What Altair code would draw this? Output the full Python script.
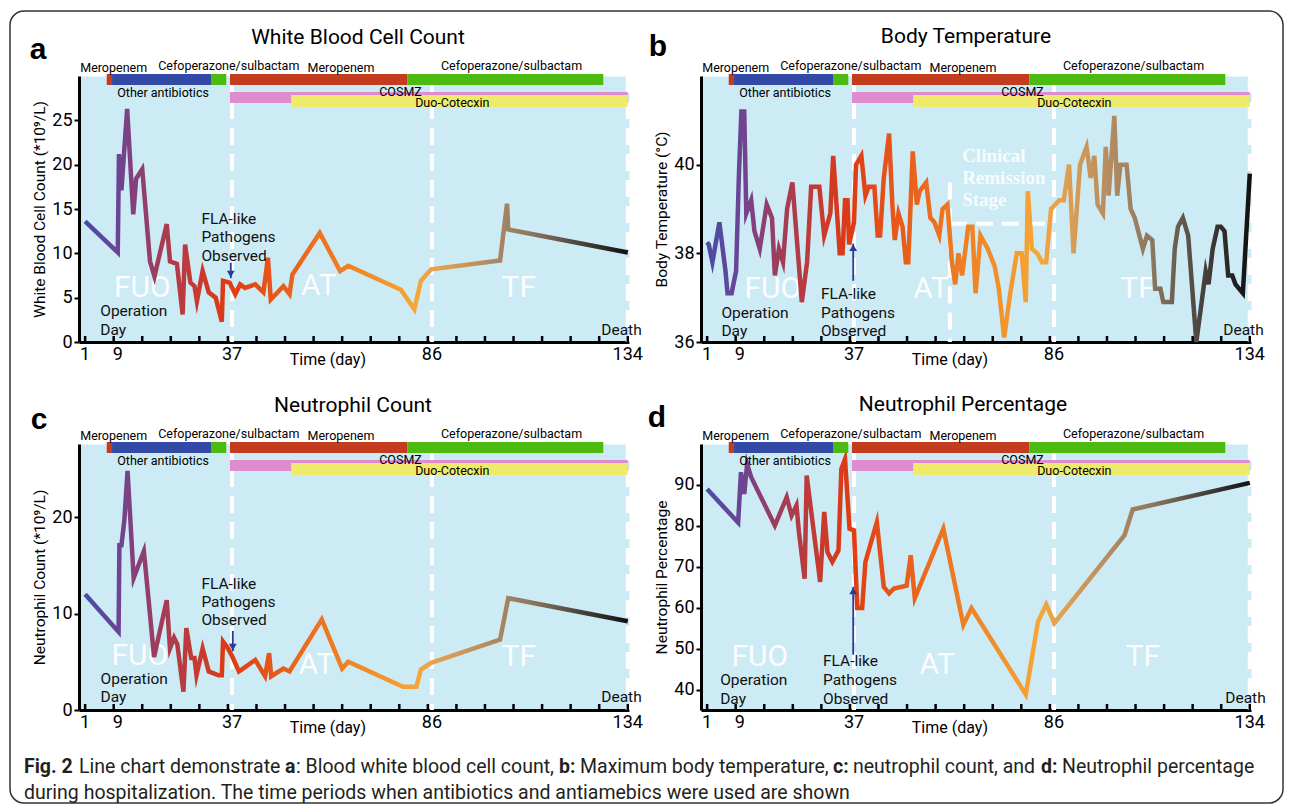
import altair as alt
import pandas as pd

# ------------------------------------------------------------------ data
wbc_day = [1, 9.0, 9.3, 9.9, 11.3, 12.8, 13.5, 15.0, 16.9, 18.0, 21.0, 21.8, 23.5, 24.9, 25.5,
           26.8, 27.8, 28.4, 29.8, 31.3, 33.0, 34.5, 34.8, 36.4, 37.8, 39.0, 40.2, 42.7, 44.7,
           45.8, 46.5, 49.6, 51.1, 51.8, 58.5, 63.5, 65.5, 78.4, 81.7, 83.3, 85.8, 102.7,
           104.4, 104.7, 134]
wbc_val = [13.6, 10.1, 21.2, 17.1, 26.3, 14.4, 18.4, 19.5, 9.1, 7.4, 13.3, 9.1, 8.8, 3.1, 11.0,
           6.7, 6.3, 4.6, 8.0, 5.6, 5.0, 2.3, 6.9, 6.7, 5.4, 6.5, 6.1, 6.5, 5.6,
           9.5, 4.8, 6.3, 5.4, 7.6, 12.3, 8.0, 8.6, 5.9, 3.7, 6.9, 8.2, 9.2,
           15.6, 12.7, 10.1]

temp_day = [1, 1.4, 2.3, 4.0, 5.5, 6.0, 7.0, 8.1, 8.8, 9.4,
            10.1, 10.6, 11.8, 12.6, 13.9, 15.6, 16.9, 17.6, 18.6, 19.6,
            20.6, 21.9, 24.2, 25.5, 26.5, 28.5, 29.7, 31.2, 31.9, 33.5,
            34.2, 34.8, 35.4, 35.8, 37.0, 37.5, 38.8, 39.8, 40.6, 42.0,
            42.8, 43.4, 44.3, 45.6, 46.4, 47.0, 47.9, 48.9, 49.7, 50.3,
            51.4, 52.4, 53.1, 54.7, 55.7, 56.7, 57.9, 58.7, 59.9, 61.0,
            61.8, 62.6, 63.5, 65.0, 66.0, 66.8, 68.0, 69.8, 71.5, 72.5,
            73.8, 75.3, 76.9, 78.1, 79.1, 79.6, 80.6, 81.9, 83.1, 84.1,
            85.3, 87.3, 88.4, 89.7, 90.8, 92.4, 94.0, 95.0, 95.9, 96.7,
            98.0, 98.7, 99.4, 100.8, 101.5, 102.3, 103.8, 104.8, 105.8, 107.8,
            108.8, 110.1, 110.8, 112.1, 112.8, 114.9, 115.6, 116.4, 117.6, 118.9,
            120.9, 122.2, 123.2, 123.9, 124.9, 126.1, 126.9, 127.8, 128.7, 129.7,
            130.5, 132.3, 134.0]
temp_val = [38.25, 38.2, 37.8, 38.7, 37.6, 37.1, 37.1, 37.6, 39.8, 41.2,
            41.2, 38.9, 39.2, 38.5, 38.1, 39.1, 38.8, 37.5, 38.1, 37.8,
            39.0, 39.6, 36.9, 37.8, 39.5, 39.5, 38.4, 38.9, 40.2, 38.0,
            38.0, 39.2, 39.2, 38.2, 38.7, 40.0, 40.2, 39.3, 39.5, 39.5,
            38.4, 38.4, 39.7, 40.7, 39.1, 38.3, 38.9, 38.6, 37.8, 37.8,
            40.3, 39.1, 39.4, 39.6, 38.8, 38.7, 38.4, 39.0, 39.1, 37.8,
            37.3, 38.0, 37.5, 38.6, 38.6, 37.1, 38.4, 38.1, 37.7, 37.2,
            36.1, 37.1, 38.0, 38.0, 36.9, 39.4, 38.1, 38.0, 37.8, 37.8,
            39.0, 39.2, 39.2, 40.0, 38.0, 40.0, 40.4, 39.7, 40.2, 39.1,
            38.9, 40.4, 39.3, 41.1, 39.3, 40.0, 40.0, 39.0, 38.8, 38.1,
            38.4, 38.3, 37.2, 37.2, 36.9, 36.9, 38.1, 38.6, 38.8, 38.4,
            36.0, 36.9, 37.6, 37.3, 38.1, 38.6, 38.6, 38.5, 37.5, 37.5,
            37.3, 37.1, 39.8]

neu_day = [1, 9.2, 9.4, 9.9, 10.6, 11.4, 12.9, 15.4, 17.9, 21.0, 21.8, 22.8, 23.6, 25.1, 25.8,
           27.0, 27.8, 28.3, 29.8, 31.3, 33.7, 34.5, 34.8, 36.0, 36.9, 38.7, 39.7, 42.7, 45.1,
           46.1, 46.6, 49.6, 51.1, 59.0, 64.0, 65.5, 78.9, 82.2, 83.3, 85.8, 102.7, 104.7, 134]
neu_val = [12.0, 8.1, 17.1, 17.1, 19.6, 24.8, 13.7, 16.5, 5.5, 11.4, 6.4, 7.5, 6.8, 1.9, 8.5,
           5.4, 5.4, 3.6, 6.4, 4.0, 3.6, 3.6, 7.1, 6.4, 5.7, 4.0, 4.3, 5.2, 3.5,
           5.9, 3.5, 4.3, 4.0, 9.4, 4.3, 5.0, 2.4, 2.4, 4.2, 4.9, 7.3, 11.6, 9.2]

pct_day = [1, 8.6, 9.3, 10.1, 10.8, 11.8, 17.6, 20.5, 21.7, 22.9, 23.5, 24.9, 25.4, 28.7, 29.7,
           30.5, 31.7, 33.2, 33.9, 34.8, 35.9, 37.0, 37.8, 39.0, 39.8, 42.6, 44.3, 45.6, 46.8,
           49.9, 50.9, 51.9, 58.9, 63.8, 65.8, 79.1, 82.1, 84.1, 86.1, 103.3, 105.3, 134]
pct_val = [89.0, 80.8, 93.1, 87.8, 95.1, 91.9, 80.1, 87.0, 82.5, 85.0, 78.5, 67.1, 92.3, 66.3, 83.4,
           73.6, 71.2, 74.0, 93.9, 96.3, 79.3, 78.9, 59.9, 59.9, 71.2, 80.9, 65.1, 63.5, 64.7,
           65.4, 72.8, 62.3, 79.3, 55.8, 59.9, 38.8, 56.6, 60.8, 56.2, 77.7, 84.0, 90.5]

xtick_days = [1, 8, 15, 22, 29, 36, 43, 50, 57, 64, 71, 78, 85, 92, 99, 106, 113, 120, 127, 134]
xlabel_days = [1, 9, 37, 86, 134]
phase_days = [37, 86, 134]

drug_name = ["Meropenem", "Other antibiotics", "Cefoperazone/sulbactam", "Meropenem",
             "Cefoperazone/sulbactam", "COSMZ", "Duo-Cotecxin"]
drug_start = [6.3, 7.6, 32.0, 36.5, 80.0, 36.5, 51.5]
drug_end = [7.6, 32.0, 35.6, 80.0, 128.0, 134.0, 134.0]

# ------------------------------------------------------------------ style
FONT = "Roboto"
W, H = 550, 266
XDOM = [-0.5, 134.3]
BG = "#cdebf5"
ARROW = "#2b3a98"
DRUG_DOMAIN = ["Meropenem", "Other antibiotics", "Cefoperazone/sulbactam", "COSMZ", "Duo-Cotecxin"]
DRUG_RANGE = ["#c33c1e", "#3249a5", "#4dba12", "#df8bd0", "#eeeb6c"]
GRAD_STOPS = [(0.0, "#4a4ba5"), (0.06, "#6a4596"), (0.09, "#85407a"), (0.143, "#a53c55"),
              (0.203, "#c53a32"), (0.263, "#e03a12"), (0.331, "#e5521a"), (0.421, "#ec7020"),
              (0.519, "#f18c28"), (0.609, "#f6a636"), (0.654, "#e2a152"), (0.744, "#b38b62"),
              (0.82, "#8c775f"), (0.902, "#4f4944"), (1.0, "#111111")]
GRAD = alt.LinearGradient(gradient="linear", x1=0, x2=1, y1=0, y2=0,
                          stops=[alt.GradientStop(offset=o, color=c) for o, c in GRAD_STOPS])

xs = alt.Scale(domain=XDOM, nice=False, zero=False)
XAX = alt.Axis(labels=False, ticks=False, title=None, grid=False, domainColor="black", domainWidth=3)
ONE = pd.DataFrame({"k": [0]})


def X(field="day"):
    return alt.X(f"{field}:Q", scale=xs, axis=XAX)


def ptext(text, px, py, size=16, weight="normal", font=FONT, align="center", color="black"):
    return alt.Chart(ONE).mark_text(text=text, font=font, fontSize=size, fontWeight=weight,
                                    align=align, baseline="middle", color=color).encode(
        x=alt.value(px), y=alt.value(py))


def panel(days, vals, ydom, yvals, ytitle, title, title_pos, letter, letter_pos, ann, extra=()):
    ys = alt.Scale(domain=ydom, nice=False, zero=False)
    yax = alt.Axis(values=yvals, grid=False, domainColor="black", domainWidth=3, tickColor="black",
                   tickWidth=2, tickSize=5, labelFont=FONT, labelFontSize=18, labelColor="black",
                   labelPadding=2, title=ytitle, titleFont=FONT, titleFontSize=15.5,
                   titleFontWeight="normal", titleColor="black", titleX=-40, titleY=H / 2,
                   titleAngle=-90, titleAlign="center", titleBaseline="middle")

    def Y(field="val"):
        return alt.Y(f"{field}:Q", scale=ys, axis=yax)

    layers = list(extra)
    df = pd.DataFrame({"day": days, "val": vals, "i": list(range(len(days)))})
    line = alt.Chart(df).mark_line(stroke=GRAD, strokeWidth=4.5, strokeJoin="miter",
                                   strokeMiterLimit=6, strokeCap="butt").encode(
        x=X(), y=Y(), order="i:Q")
    # phase separators (white dashed)
    layers.append(alt.Chart(pd.DataFrame({"day": phase_days})).mark_rule(
        color="white", strokeWidth=4, strokeDash=[17, 9]).encode(
        x=X(), y=alt.value(0), y2=alt.value(H)))
    if "remission" in ann:
        d0, d1, top, lvl = ann["remission"]
        layers.append(alt.Chart(pd.DataFrame({"day": [d0], "val": [top], "val2": [ydom[0]]})).mark_rule(
            color="white", strokeWidth=4, strokeDash=[17, 9]).encode(x=X(), y=Y(), y2="val2:Q"))
        layers.append(alt.Chart(pd.DataFrame({"day": [d0], "day2": [d1], "val": [lvl]})).mark_rule(
            color="white", strokeWidth=4, strokeDash=[17, 9]).encode(x=X(), x2="day2:Q", y=Y()))
        rem = pd.DataFrame({"label": ["Clinical", "Remission", "Stage"],
                            "day": [ann["remission_text"][0]] * 3, "val": ann["remission_text"][1]})
        layers.append(alt.Chart(rem).mark_text(font="Liberation Serif", fontWeight="bold", fontSize=19,
                                               color="white", opacity=0.85, align="left",
                                               baseline="middle").encode(x=X(), y=Y(), text="label:N"))
    # stage labels
    st = pd.DataFrame(ann["stages"], columns=["label", "day", "val"])
    layers.append(alt.Chart(st).mark_text(font=FONT, fontSize=30, color="white", opacity=0.92,
                                          baseline="middle").encode(x=X(), y=Y(), text="label:N"))
    layers.append(line)
    # x ticks (pointing inward) and labels
    layers.append(alt.Chart(pd.DataFrame({"day": xtick_days})).mark_rule(
        color="black", strokeWidth=2.5).encode(x=X(), y=alt.value(H), y2=alt.value(H - 6)))
    layers.append(alt.Chart(pd.DataFrame({"day": xlabel_days})).mark_text(
        font=FONT, fontSize=18, baseline="middle", color="black").encode(
        x=X(), y=alt.value(H + 13), text=alt.Text("day:Q", format="d")))
    layers.append(alt.Chart(pd.DataFrame({"day": [60.5]})).mark_text(
        text="Time (day)", font=FONT, fontSize=16, baseline="middle", color="black").encode(
        x=X(), y=alt.value(H + 18)))
    # drug bars
    drugs = pd.DataFrame({"name": drug_name, "start": drug_start, "end": drug_end})
    color = alt.Color("name:N", scale=alt.Scale(domain=DRUG_DOMAIN, range=DRUG_RANGE), legend=None)
    for names, y0, y1 in [(DRUG_DOMAIN[:3], -2, 9), (["COSMZ"], 16, 27), (["Duo-Cotecxin"], 19, 31)]:
        layers.append(alt.Chart(drugs).transform_filter(
            alt.FieldOneOfPredicate(field="name", oneOf=names)).mark_rect().encode(
            x=X("start"), x2="end:Q", y=alt.value(y0), y2=alt.value(y1), color=color))
    for lab, d, py in [("Meropenem", 8.0, -8), ("Cefoperazone/sulbactam", 36.2, -10),
                       ("Meropenem", 63.7, -8), ("Cefoperazone/sulbactam", 105.5, -10),
                       ("Other antibiotics", 20.1, 17), ("COSMZ", 78.3, 16), ("Duo-Cotecxin", 91.0, 27)]:
        layers.append(alt.Chart(pd.DataFrame({"day": [d]})).mark_text(
            text=lab, font=FONT, fontSize=12.5, baseline="middle", color="black").encode(
            x=X(), y=alt.value(py)))
    # black annotations
    od, o1, o2 = ann["op"]
    fd, fv = ann["fla"]
    dd, dv = ann["death"]
    notes = pd.DataFrame({"label": ["Operation", "Day", "FLA-like", "Pathogens", "Observed", "Death"],
                          "day": [od, od, fd, fd, fd, dd],
                          "val": [o1, o2, fv[0], fv[1], fv[2], dv]})
    layers.append(alt.Chart(notes).mark_text(font=FONT, fontSize=15.5, align="left", baseline="middle",
                                             color="#111111").encode(x=X(), y=Y(), text="label:N"))
    # arrow
    ad, tail, head = ann["arrow"]
    layers.append(alt.Chart(pd.DataFrame({"day": [ad], "val": [tail], "val2": [head]})).mark_rule(
        color=ARROW, strokeWidth=1.8).encode(x=X(), y=Y(), y2="val2:Q"))
    down = head < tail
    layers.append(alt.Chart(pd.DataFrame({"day": [ad], "val": [head]})).mark_point(
        shape="triangle-down" if down else "triangle-up", filled=True, size=60, color=ARROW,
        opacity=1, yOffset=-4 if down else 4).encode(x=X(), y=Y()))
    # title and panel letter
    layers.append(ptext(title, title_pos[0], title_pos[1], size=21))
    layers.append(ptext(letter, letter_pos[0], letter_pos[1], size=30, weight="bold",
                        font="Liberation Sans"))
    return alt.layer(*layers).properties(width=W, height=H)


# frame and caption, drawn relative to panel a
frame = alt.Chart(ONE).mark_rect(fill="white", fillOpacity=0, stroke="#333333", strokeWidth=1.5,
                                 cornerRadius=14).encode(
    x=alt.value(-69), y=alt.value(-65), x2=alt.value(1204), y2=alt.value(727))
cap = [("Fig. 2", -55, "bold"), ("Line chart demonstrate", 0, "normal"), ("a", 206, "bold"),
       (": Blood white blood cell count,", 217, "normal"), ("b:", 480, "bold"),
       ("Maximum body temperature,", 501, "normal"), ("c:", 754, "bold"),
       ("neutrophil count, and", 774, "normal"), ("d:", 962, "bold"),
       ("Neutrophil percentage", 983, "normal")]
caption_layers = [ptext(t, px, 691, size=19.5, weight=w, align="left", color="#231f20") for t, px, w in cap]
caption_layers.append(ptext("during hospitalization. The time periods when antibiotics and antiamebics "
                            "were used are shown", -55, 717, size=19.5, align="left", color="#231f20"))

pa = panel(wbc_day, wbc_val, [0, 30], [0, 5, 10, 15, 20, 25], "White Blood Cell Count (*10⁹/L)",
           "White Blood Cell Count", (279, -38), "a", (-41, -26),
           dict(stages=[("FUO", 15, 6.1), ("AT", 58.3, 6.3), ("TF", 107.3, 6.1)],
                op=(4.7, 3.5, 1.4), fla=(29.5, [13.9, 11.8, 9.7]), death=(127.5, 1.4),
                arrow=(36.7, 8.95, 7.2)),
           extra=[frame] + caption_layers)
pb = panel(temp_day, temp_val, [36, 42], [36, 38, 40], "Body Temperature (°C)",
           "Body Temperature", (265, -39), "b", (-43, -29),
           dict(stages=[("FUO", 17.1, 37.2), ("AT", 55.9, 37.2), ("TF", 106.5, 37.2)],
                op=(4.5, 36.66, 36.24), fla=(28.9, [37.09, 36.66, 36.24]), death=(127.5, 36.27),
                arrow=(36.8, 37.38, 38.22), remission=(60.5, 85.0, 39.6, 38.67),
                remission_text=(63.5, [40.2, 39.7, 39.2])))
pc = panel(neu_day, neu_val, [0, 27.6], [0, 10, 20], "Neutrophil Count  (*10⁹/L)",
           "Neutrophil Count", (274, -38), "c", (-40, -24),
           dict(stages=[("FUO", 14.4, 5.6), ("AT", 57.7, 4.7), ("TF", 107.3, 5.5)],
                op=(4.8, 3.2, 1.3), fla=(29.5, [13.1, 11.2, 9.3]), death=(127.5, 1.4),
                arrow=(37.2, 8.2, 6.1)))
pd_ = panel(pct_day, pct_val, [35, 100], [40, 50, 60, 70, 80, 90], "Neutrophil Percentage",
            "Neutrophil Percentage", (262, -39), "d", (-44, -26),
            dict(stages=[("FUO", 13.9, 48.0), ("AT", 57.4, 46.0), ("TF", 107.8, 48.0)],
                 op=(4.2, 42.4, 37.8), fla=(29.4, [46.9, 42.4, 37.8]), death=(128.0, 38.0),
                 arrow=(36.8, 48.5, 65.1)))

chart = alt.concat(pa, pb, pc, pd_, columns=2, spacing={"row": 102, "column": 72},
                   bounds="flush").properties(
    padding={"left": 1, "top": 2, "right": 0, "bottom": 0}, background="white"
).configure_view(fill=BG, strokeOpacity=0)

chart.save("out.html", embed_options={"renderer": "svg", "actions": False})
